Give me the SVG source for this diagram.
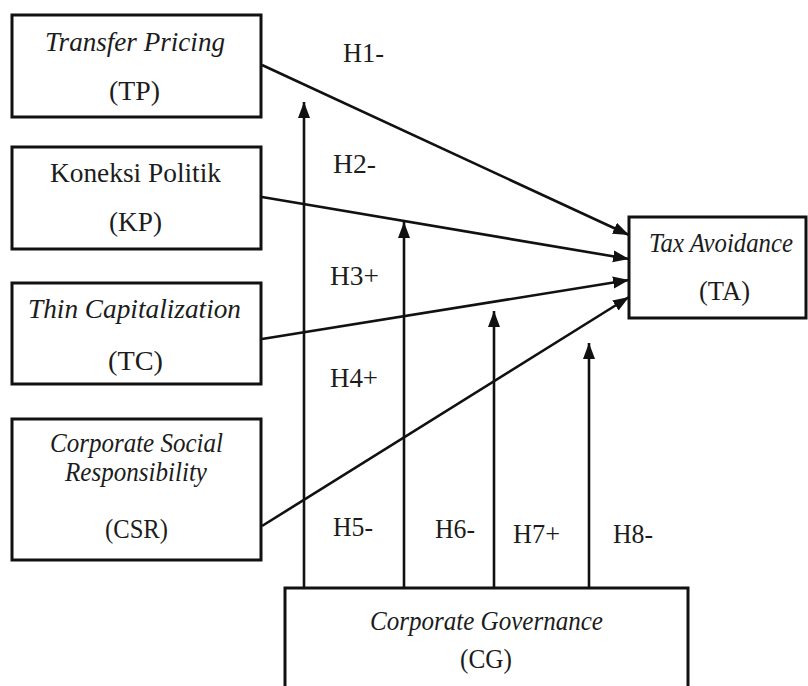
<svg xmlns="http://www.w3.org/2000/svg" width="808" height="686" viewBox="0 0 808 686" font-family="'Liberation Serif', 'Times New Roman', serif">
<style>
.box{fill:#fff;stroke:#111;stroke-width:3}
.t{font-family:'Liberation Serif','Times New Roman',serif;font-size:28px;fill:#1c1c1c}
.i{font-style:italic}
.c{stroke:#111;stroke-width:2.6;fill:none}
</style>
<defs>
<marker id="ah" markerUnits="userSpaceOnUse" markerWidth="18" markerHeight="14" refX="16" refY="6.5" orient="auto">
<path d="M0,0.5 L16,6.5 L0,12.5 z" fill="#111"/>
</marker>
</defs>
<rect width="808" height="686" fill="#fff"/>
<g id="connectors">
<line class="c" x1="262" y1="65" x2="629" y2="235" marker-end="url(#ah)"/>
<line class="c" x1="262" y1="197" x2="629" y2="259" marker-end="url(#ah)"/>
<line class="c" x1="262" y1="339" x2="629" y2="280" marker-end="url(#ah)"/>
<line class="c" x1="262" y1="526" x2="629" y2="297" marker-end="url(#ah)"/>
<line class="c" x1="304" y1="588" x2="304" y2="102" marker-end="url(#ah)"/>
<line class="c" x1="404" y1="588" x2="404" y2="222" marker-end="url(#ah)"/>
<line class="c" x1="494" y1="588" x2="494" y2="311" marker-end="url(#ah)"/>
<line class="c" x1="589" y1="588" x2="589" y2="343" marker-end="url(#ah)"/>
</g>
<g id="labels">
<text class="t" x="343" y="62" textLength="41" lengthAdjust="spacingAndGlyphs">H1-</text>
<text class="t" x="333" y="173" textLength="43" lengthAdjust="spacingAndGlyphs">H2-</text>
<text class="t" x="330" y="285" textLength="49" lengthAdjust="spacingAndGlyphs">H3+</text>
<text class="t" x="330" y="387" textLength="48" lengthAdjust="spacingAndGlyphs">H4+</text>
<text class="t" x="333" y="536" textLength="40" lengthAdjust="spacingAndGlyphs">H5-</text>
<text class="t" x="435" y="538" textLength="40" lengthAdjust="spacingAndGlyphs">H6-</text>
<text class="t" x="513" y="543" textLength="47" lengthAdjust="spacingAndGlyphs">H7+</text>
<text class="t" x="613" y="543" textLength="40" lengthAdjust="spacingAndGlyphs">H8-</text>
</g>
<g id="TP">
<rect class="box" x="12" y="15" width="249" height="102"/>
<text class="t i" x="45" y="51" textLength="180" lengthAdjust="spacingAndGlyphs">Transfer Pricing</text>
<text class="t" x="109" y="100" textLength="51" lengthAdjust="spacingAndGlyphs">(TP)</text>
</g>
<g id="KP">
<rect class="box" x="12" y="147" width="249" height="102"/>
<text class="t" x="50" y="182" textLength="171" lengthAdjust="spacingAndGlyphs">Koneksi Politik</text>
<text class="t" x="109" y="231" textLength="53" lengthAdjust="spacingAndGlyphs">(KP)</text>
</g>
<g id="TC">
<rect class="box" x="12" y="283" width="249" height="101"/>
<text class="t i" x="28" y="318" textLength="213" lengthAdjust="spacingAndGlyphs">Thin Capitalization</text>
<text class="t" x="108" y="370" textLength="55" lengthAdjust="spacingAndGlyphs">(TC)</text>
</g>
<g id="CSR">
<rect class="box" x="12" y="419" width="249" height="141"/>
<text class="t i" x="50" y="452" textLength="173" lengthAdjust="spacingAndGlyphs">Corporate Social</text>
<text class="t i" x="65" y="481" textLength="142" lengthAdjust="spacingAndGlyphs">Responsibility</text>
<text class="t" x="105" y="538" textLength="63" lengthAdjust="spacingAndGlyphs">(CSR)</text>
</g>
<g id="TA">
<rect class="box" x="629" y="217" width="177" height="101"/>
<text class="t i" x="649" y="252" textLength="144" lengthAdjust="spacingAndGlyphs">Tax Avoidance</text>
<text class="t" x="699" y="300" textLength="51" lengthAdjust="spacingAndGlyphs">(TA)</text>
</g>
<g id="CG">
<rect class="box" x="285" y="588" width="403" height="110"/>
<text class="t i" x="370" y="630" textLength="233" lengthAdjust="spacingAndGlyphs">Corporate Governance</text>
<text class="t" x="460" y="668" textLength="52" lengthAdjust="spacingAndGlyphs">(CG)</text>
</g>
</svg>
